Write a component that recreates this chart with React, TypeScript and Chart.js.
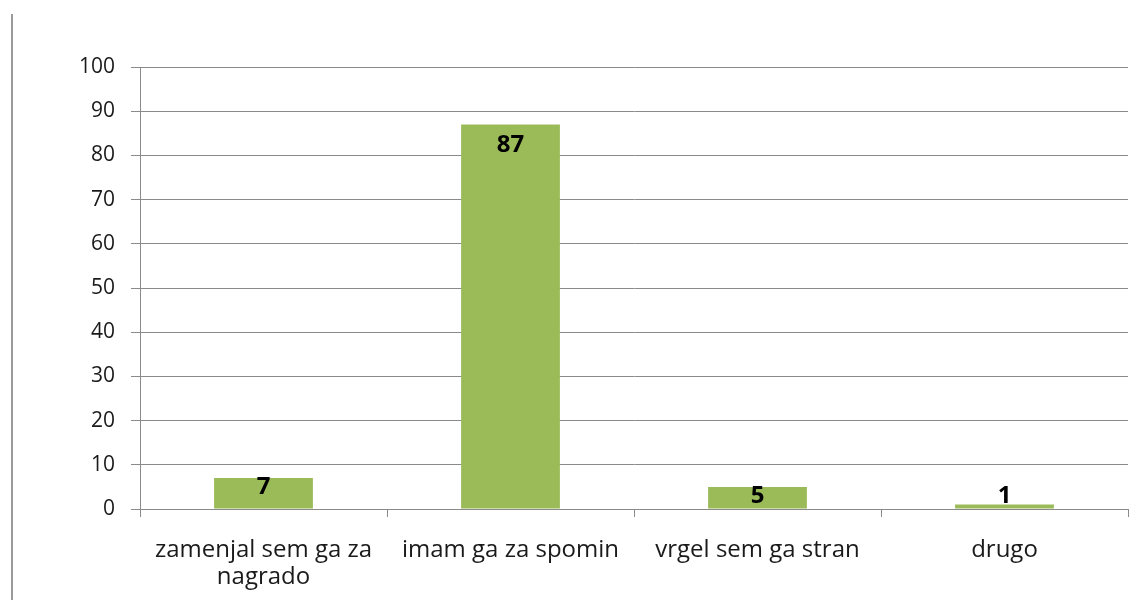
import React, { useEffect, useRef } from "react";
import { Chart, registerables } from "chart.js";

Chart.register(...registerables);

const categories: (string | string[])[] = [
  ["zamenjal sem ga za", "nagrado"],
  "imam ga za spomin",
  "vrgel sem ga stran",
  "drugo",
];
const values = [7, 87, 5, 1];
const yTicks = [0, 10, 20, 30, 40, 50, 60, 70, 80, 90, 100];

const FONT = "'Open Sans', 'DejaVu Sans', sans-serif";
const GRID = "#8a8a8a";

const frameLine = {
  id: "frameLine",
  beforeDraw(chart: any) {
    const ctx = chart.ctx;
    ctx.save();
    ctx.strokeStyle = "#9a9a9a";
    ctx.lineWidth = 2;
    ctx.beginPath();
    ctx.moveTo(12, 14);
    ctx.lineTo(12, chart.height);
    ctx.stroke();
    ctx.restore();
  },
};

const valueLabels = {
  id: "valueLabels",
  afterDatasetsDraw(chart: any) {
    const ctx = chart.ctx;
    const meta = chart.getDatasetMeta(0);
    ctx.save();
    ctx.font = `bold 24px ${FONT}`;
    ctx.fillStyle = "#000";
    ctx.textAlign = "center";
    ctx.textBaseline = "middle";
    meta.data.forEach((bar: any, i: number) => {
      const top = bar.y;
      const base = bar.base;
      const h = base - top;
      let y: number;
      if (h >= 42) y = top + 21;
      else y = Math.min(top + 9, base - 12);
      ctx.fillText(String(values[i]), bar.x, y);
    });
    ctx.restore();
  },
};

export default function App() {
  const ref = useRef<HTMLCanvasElement>(null);
  useEffect(() => {
    if (!ref.current) return;
    const chart = new Chart(ref.current, {
      type: "bar",
      data: {
        labels: categories as any,
        datasets: [
          {
            data: values,
            backgroundColor: "#9bbb59",
            borderWidth: 0,
            barPercentage: 0.4,
            categoryPercentage: 1,
          },
        ],
      },
      options: {
        animation: false,
        responsive: false,
        maintainAspectRatio: false,
        layout: { padding: { left: 0, right: 16, top: 67, bottom: 0 } },
        plugins: {
          legend: { display: false },
          tooltip: { enabled: false },
        },
        scales: {
          x: {
            offset: true,
            grid: {
              offset: true,
              drawOnChartArea: false,
              drawTicks: true,
              tickLength: 8,
              color: GRID,
            },
            border: { color: GRID, width: 1 },
            ticks: {
              color: "#1a1a1a",
              font: { family: FONT, size: 24, lineHeight: "27px" },
              padding: 20,
              maxRotation: 0,
              autoSkip: false,
            },
            afterFit(scale: any) {
              scale.height = 91;
            },
          },
          y: {
            min: 0,
            max: 100,
            afterBuildTicks(scale: any) {
              scale.ticks = yTicks.map((v) => ({ value: v }));
            },
            grid: {
              color: GRID,
              tickLength: 9,
            },
            border: { color: GRID, width: 1 },
            ticks: {
              color: "#1a1a1a",
              font: { family: FONT, size: 21 },
              padding: 16,
            },
            afterFit(scale: any) {
              scale.width = 140;
            },
          },
        },
      },
      plugins: [frameLine, valueLabels],
    });
    return () => chart.destroy();
  }, []);
  return (
    <div style={{ position: "fixed", left: 0, top: 0, width: 1144, height: 600, background: "#fff" }}>
      <canvas ref={ref} width={1144} height={600} style={{ display: "block" }} />
    </div>
  );
}
